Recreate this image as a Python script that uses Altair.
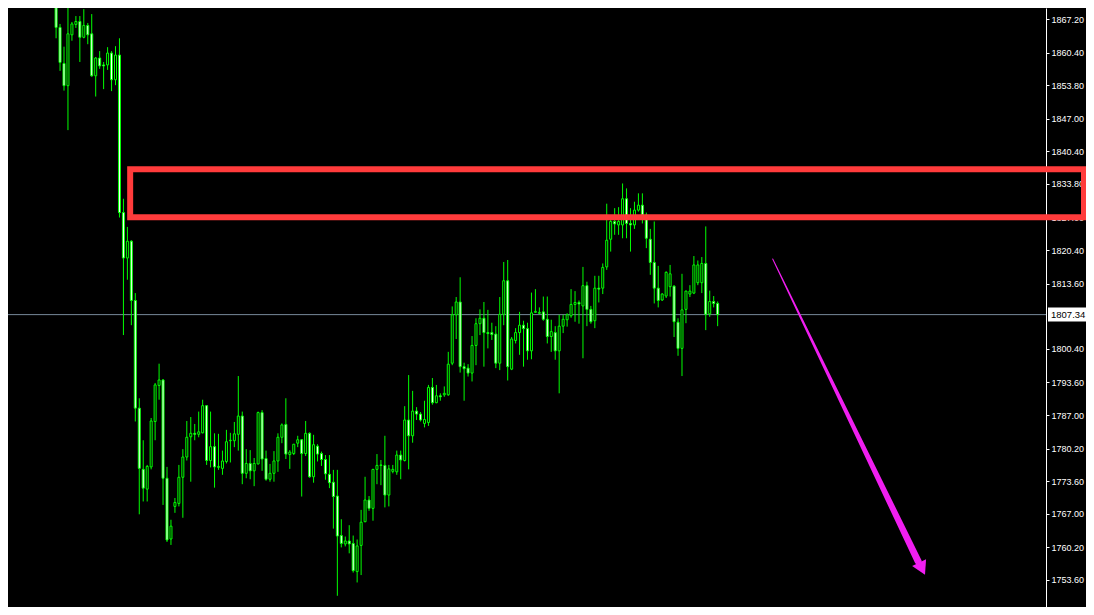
import altair as alt
import pandas as pd

# ---- OHLC data (one value per candle, oldest first) ----
opens = [
    1872.0, 1865.5, 1858.2, 1853.7, 1864.0, 1866.1, 1866.7, 1863.5, 1865.9, 1864.2,
    1855.7, 1859.3, 1857.9, 1857.9, 1860.3, 1854.9, 1859.9, 1828.0, 1818.8, 1822.2,
    1810.2, 1788.4, 1776.0, 1772.0, 1776.5, 1785.7, 1793.0, 1794.1, 1774.2, 1761.9,
    1768.5, 1769.1, 1774.4, 1778.5, 1782.6, 1783.3, 1783.1, 1783.4, 1788.9, 1777.8,
    1780.6, 1776.4, 1776.2, 1777.6, 1781.8, 1781.8, 1783.1, 1786.8, 1775.2, 1777.2,
    1775.7, 1777.1, 1787.5, 1778.2, 1774.0, 1775.2, 1777.7, 1782.5, 1785.1, 1779.0,
    1779.2, 1781.3, 1782.0, 1779.2, 1783.3, 1774.5, 1780.7, 1779.2, 1778.0, 1775.0,
    1773.4, 1770.6, 1762.6, 1760.9, 1761.5, 1761.0, 1755.3, 1760.6, 1765.4, 1769.8,
    1768.1, 1776.0, 1776.8, 1776.8, 1770.8, 1775.6, 1775.5, 1778.9, 1777.8, 1786.0,
    1782.8, 1787.8, 1787.2, 1785.3, 1785.5, 1792.6, 1789.5, 1790.9, 1791.1, 1791.1,
    1797.5, 1807.3, 1809.9, 1796.8, 1796.5, 1795.5, 1801.1, 1805.5, 1806.6, 1803.7,
    1803.7, 1803.4, 1797.5, 1807.4, 1814.2, 1796.3, 1802.1, 1803.7, 1805.2, 1804.5,
    1800.0, 1807.8, 1807.6, 1807.9, 1806.4, 1802.9, 1803.7, 1800.0, 1805.0, 1806.3,
    1807.1, 1809.4, 1809.8, 1809.1, 1813.2, 1808.4, 1806.1, 1812.7, 1812.7, 1817.0,
    1822.6, 1826.2, 1825.5, 1825.5, 1830.8, 1825.8, 1825.5, 1828.5, 1829.5, 1827.5,
    1822.6, 1817.9, 1812.7, 1810.3, 1811.1, 1813.0, 1813.1, 1805.8, 1800.5, 1808.4,
    1811.5, 1811.7, 1813.8, 1813.8, 1817.7, 1807.5, 1810.0, 1809.6,
]
highs = [
    1873.5, 1866.2, 1861.6, 1869.8, 1866.6, 1867.8, 1867.8, 1869.2, 1866.4, 1868.2,
    1859.5, 1860.7, 1858.5, 1861.5, 1860.7, 1861.7, 1863.3, 1830.8, 1825.1, 1822.4,
    1811.7, 1790.4, 1781.9, 1776.9, 1786.4, 1793.5, 1797.4, 1794.3, 1776.5, 1765.8,
    1770.2, 1776.9, 1780.1, 1785.8, 1786.6, 1785.2, 1787.7, 1790.1, 1789.0, 1787.7,
    1783.3, 1783.2, 1779.8, 1784.0, 1783.4, 1785.6, 1794.9, 1787.7, 1780.1, 1779.9,
    1778.3, 1787.7, 1788.0, 1779.8, 1777.1, 1779.7, 1783.3, 1785.3, 1790.4, 1779.9,
    1781.1, 1782.8, 1782.1, 1785.8, 1783.5, 1783.0, 1781.1, 1779.6, 1778.9, 1778.9,
    1775.9, 1775.9, 1765.9, 1762.4, 1764.7, 1762.6, 1761.8, 1767.8, 1774.5, 1770.6,
    1776.1, 1779.1, 1777.9, 1782.8, 1776.9, 1776.9, 1779.8, 1779.8, 1788.8, 1795.1,
    1791.9, 1788.6, 1787.6, 1789.9, 1793.1, 1794.5, 1793.1, 1791.4, 1792.8, 1799.8,
    1809.0, 1810.9, 1814.9, 1797.6, 1797.3, 1803.0, 1806.6, 1808.4, 1809.9, 1808.3,
    1805.7, 1805.0, 1810.9, 1818.0, 1818.4, 1802.8, 1804.6, 1807.9, 1806.1, 1805.7,
    1811.8, 1812.5, 1808.8, 1811.0, 1811.0, 1806.3, 1805.0, 1807.3, 1807.3, 1807.6,
    1812.5, 1812.1, 1810.2, 1817.0, 1814.0, 1809.1, 1815.2, 1815.2, 1817.7, 1829.8,
    1826.5, 1828.9, 1829.1, 1833.9, 1832.9, 1828.9, 1830.2, 1831.9, 1831.9, 1828.0,
    1824.7, 1826.2, 1817.2, 1811.7, 1816.1, 1817.4, 1813.3, 1806.6, 1815.6, 1812.2,
    1813.3, 1819.2, 1818.3, 1819.0, 1825.2, 1812.2, 1811.1, 1810.0,
]
lows = [
    1863.3, 1856.7, 1852.7, 1844.7, 1862.8, 1865.4, 1858.5, 1863.3, 1862.1, 1855.5,
    1851.5, 1857.1, 1853.0, 1856.9, 1852.6, 1853.8, 1827.0, 1803.2, 1814.4, 1805.2,
    1785.7, 1766.9, 1769.5, 1769.5, 1776.0, 1781.9, 1790.1, 1768.8, 1761.3, 1760.7,
    1767.2, 1768.5, 1766.2, 1777.8, 1773.5, 1781.9, 1782.5, 1783.3, 1776.9, 1776.4,
    1772.3, 1775.9, 1774.9, 1777.2, 1777.4, 1780.5, 1779.8, 1773.0, 1774.2, 1774.0,
    1772.6, 1777.0, 1775.7, 1773.7, 1773.5, 1773.5, 1775.5, 1781.3, 1778.1, 1776.1,
    1778.9, 1780.5, 1770.5, 1778.7, 1774.3, 1773.3, 1777.6, 1776.7, 1773.9, 1772.2,
    1764.0, 1750.4, 1760.2, 1760.4, 1759.0, 1755.1, 1753.1, 1754.6, 1765.3, 1767.6,
    1765.6, 1773.0, 1772.8, 1768.3, 1768.5, 1775.2, 1774.9, 1774.0, 1777.6, 1776.0,
    1781.4, 1786.0, 1785.7, 1784.5, 1784.8, 1789.1, 1789.4, 1789.9, 1790.7, 1790.9,
    1797.1, 1802.4, 1795.6, 1789.9, 1794.8, 1793.8, 1797.1, 1803.2, 1796.8, 1800.5,
    1802.2, 1796.5, 1796.1, 1805.2, 1794.0, 1796.1, 1801.5, 1799.2, 1796.8, 1798.2,
    1798.3, 1807.7, 1807.4, 1806.1, 1801.5, 1799.8, 1798.2, 1791.4, 1803.6, 1804.9,
    1806.7, 1805.9, 1805.5, 1798.5, 1805.0, 1805.5, 1804.6, 1809.8, 1811.5, 1816.4,
    1820.1, 1823.5, 1823.5, 1822.8, 1822.8, 1820.1, 1824.7, 1828.2, 1825.8, 1820.8,
    1815.4, 1809.6, 1808.8, 1810.1, 1810.7, 1811.0, 1802.8, 1799.0, 1794.9, 1805.6,
    1810.9, 1811.5, 1813.3, 1811.7, 1804.2, 1806.9, 1808.8, 1805.0,
]
closes = [
    1865.5, 1858.4, 1853.7, 1864.2, 1866.2, 1866.7, 1863.5, 1865.9, 1864.0, 1855.7,
    1859.3, 1857.7, 1857.7, 1860.3, 1854.9, 1859.9, 1828.0, 1818.8, 1822.2, 1810.2,
    1788.4, 1776.2, 1772.2, 1776.6, 1785.8, 1793.1, 1794.1, 1774.2, 1761.7, 1764.5,
    1769.3, 1774.4, 1778.5, 1782.5, 1783.3, 1783.1, 1783.6, 1788.9, 1777.8, 1780.6,
    1776.5, 1776.6, 1777.7, 1781.6, 1781.9, 1783.2, 1786.8, 1775.2, 1777.2, 1775.7,
    1777.2, 1787.5, 1778.1, 1774.0, 1775.2, 1777.7, 1782.5, 1785.0, 1779.1, 1779.5,
    1781.1, 1782.0, 1779.2, 1783.3, 1774.5, 1781.0, 1779.1, 1778.0, 1775.1, 1773.3,
    1770.5, 1762.5, 1761.0, 1761.5, 1760.9, 1755.5, 1760.5, 1765.3, 1769.8, 1768.1,
    1776.0, 1776.8, 1776.9, 1770.8, 1776.1, 1776.0, 1778.9, 1777.9, 1786.0, 1782.8,
    1787.8, 1787.2, 1786.0, 1786.1, 1792.6, 1789.5, 1790.9, 1790.7, 1791.4, 1797.3,
    1807.3, 1809.9, 1796.8, 1796.4, 1795.5, 1801.1, 1805.5, 1806.6, 1803.7, 1803.5,
    1803.3, 1797.5, 1807.4, 1814.2, 1796.8, 1802.4, 1803.7, 1805.2, 1804.5, 1800.0,
    1807.7, 1808.0, 1807.8, 1806.4, 1802.9, 1803.9, 1800.0, 1805.0, 1806.4, 1807.3,
    1809.4, 1809.8, 1809.5, 1813.2, 1808.4, 1805.9, 1812.7, 1812.5, 1816.9, 1822.4,
    1826.2, 1825.7, 1826.2, 1830.8, 1825.8, 1825.5, 1828.5, 1829.5, 1827.5, 1822.8,
    1817.9, 1812.7, 1810.2, 1811.5, 1815.9, 1815.6, 1805.9, 1800.5, 1808.3, 1812.1,
    1812.1, 1817.4, 1817.4, 1817.7, 1807.4, 1810.0, 1809.6, 1807.34,
]

# right-hand price scale labels (the one under the current-price box is hidden)
tick_values = [1867.2, 1860.4, 1853.8, 1847.0, 1840.4, 1833.8, 1827.0, 1820.4,
               1813.6, 1800.4, 1793.6, 1787.0, 1780.2, 1773.6, 1767.0,
               1760.2, 1753.6, 1747.0]
current_price = [1807.34]
current_label = ["1807.34"]

# resistance box (left edge at candle position, price band) and arrow annotation
zone_left = [18.7]
zone_top = [1836.8]
zone_bottom = [1827.05]
arrow_x = [180.9, 217.6]
arrow_p = [1818.6, 1757.4]
arrow_w = [1, 7]
head_x = [218.6]
head_p = [1755.9]

# ---------------------------------------------------------------------------
W, H = 1038, 599
LIME = "#00ff00"

df = pd.DataFrame({"i": list(range(len(opens))), "open": opens, "high": highs,
                   "low": lows, "close": closes})
df["dir"] = ["up" if c >= o else "down" for o, c in zip(opens, closes)]

xs = alt.Scale(domain=[-10.875, 248.625], nice=False, zero=False)
ys = alt.Scale(domain=[1748.13, 1869.43], nice=False, zero=False)


def yaxis():
    return alt.Axis(orient="right", values=tick_values, format=".2f", grid=False,
                    domainColor="#ffffff", tickColor="#ffffff", tickSize=3,
                    labelColor="#ffffff", labelFont="Liberation Sans", labelFontSize=9,
                    labelPadding=2, title=None, labelOverlap=False, labelFlush=False)


price_df = pd.DataFrame({"p": current_price, "t": current_label})

price_line = alt.Chart(price_df).mark_rule(color="#778899", strokeWidth=1).encode(
    y=alt.Y("p:Q", scale=ys, axis=yaxis())
)

wicks = alt.Chart(df).mark_rule(color=LIME, strokeWidth=1).encode(
    x=alt.X("i:Q", scale=xs, axis=None),
    y=alt.Y("low:Q", scale=ys, axis=yaxis()),
    y2="high:Q",
)

bodies = alt.Chart(df).mark_bar(size=2, stroke=LIME, strokeWidth=1).encode(
    x=alt.X("i:Q", scale=xs, axis=None),
    y=alt.Y("open:Q", scale=ys, axis=yaxis()),
    y2="close:Q",
    fill=alt.Fill("dir:N", scale=alt.Scale(domain=["up", "down"],
                                           range=["#000000", "#ffffff"]), legend=None),
)

zone_df = pd.DataFrame({"x0": zone_left, "top": zone_top, "bot": zone_bottom})
zone = alt.Chart(zone_df).mark_rect(filled=False, stroke="#ff3b3b", strokeWidth=6).encode(
    x=alt.X("x0:Q", scale=xs, axis=None),
    x2=alt.value(W + 38),
    y=alt.Y("top:Q", scale=ys, axis=yaxis()),
    y2="bot:Q",
)

price_box = alt.Chart(price_df).mark_rect(color="#ffffff", yOffset=-7, y2Offset=7).encode(
    x=alt.value(W + 2),
    x2=alt.value(W + 40),
    y=alt.Y("p:Q", scale=ys, axis=yaxis()),
    y2="p:Q",
)
price_text = alt.Chart(price_df).mark_text(
    align="left", baseline="middle", font="Liberation Sans", fontSize=9.5, color="#000000"
).encode(
    x=alt.value(W + 5),
    y=alt.Y("p:Q", scale=ys, axis=yaxis()),
    text="t:N",
)

arrow_df = pd.DataFrame({"i": arrow_x, "p": arrow_p, "w": arrow_w})
arrow = alt.Chart(arrow_df).mark_trail(color="#f01ef0").encode(
    x=alt.X("i:Q", scale=xs, axis=None),
    y=alt.Y("p:Q", scale=ys, axis=yaxis()),
    size=alt.Size("w:Q", scale=None, legend=None),
)
head_df = pd.DataFrame({"i": head_x, "p": head_p})
head = alt.Chart(head_df).mark_point(
    shape="triangle-down", angle=334, size=240, filled=True, color="#f01ef0", opacity=1
).encode(
    x=alt.X("i:Q", scale=xs, axis=None),
    y=alt.Y("p:Q", scale=ys, axis=yaxis()),
)

chart = alt.layer(price_line, wicks, bodies, zone, price_box, price_text, arrow, head).properties(
    width=W,
    height=H,
    background="#000000",
    padding={"left": 0, "top": 0, "right": 40, "bottom": 0},
    autosize=alt.AutoSizeParams(type="none"),
).configure_view(strokeWidth=0)

chart.save("out.html", embed_options={"renderer": "svg", "actions": False})
